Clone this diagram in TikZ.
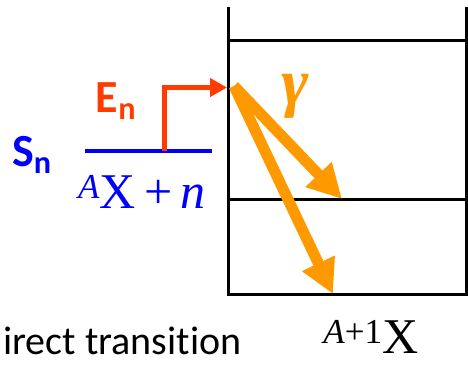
\documentclass[tikz,border=0pt]{standalone}
\usepackage{fontspec}
\setmainfont{Carlito}[Ligatures=NoCommon]
\newfontfamily\serifmath{Liberation Serif}
\usetikzlibrary{arrows.meta}
\definecolor{gammaorange}{RGB}{255,153,0}
\definecolor{capred}{RGB}{255,60,0}
\definecolor{groundblue}{RGB}{0,0,250}

\tikzset{
  statebar/.style={line width=3pt, black},
  groundbar/.style={line width=4.5pt, groundblue},
  captarrow/.style={line width=5pt, capred, -{Triangle[length=17pt,width=18pt]}},
  gammaarrow/.style={line width=11pt, gammaorange, -{Triangle[length=34pt,width=34pt]}},
  biglabel/.style={inner sep=0pt, font=\bfseries\fontsize{46}{46}\selectfont},
  mathlabel/.style={inner sep=0pt, anchor=base, font=\serifmath\fontsize{50}{50}\selectfont},
}

\begin{document}
\begin{tikzpicture}[x=1pt,y=-1pt]
    \useasboundingbox (0,0) rectangle (468,365);
    \foreach \y in {40,199} {
        \draw[statebar] (228,\y) -- (468,\y);
    }
    \draw[statebar] (228,7) |- (466,294) -- (466,7);

    \coordinate (gl) at (85,151);
    \coordinate (gr) at (212,151);
    \coordinate (gfoot) at (164.5,151);
    \coordinate (entry) at (227,87.5);
    \draw[groundbar] (gl) -- (gr);
    \draw[captarrow] (gfoot) |- (entry);

    \coordinate (capt) at (234,86);
    \coordinate (lvl1) at (342,199);
    \coordinate (lvl0) at (333,294);
    \draw[gammaarrow] (capt) -- (lvl1);
    \draw[gammaarrow] (capt) -- (lvl0);

    \node[biglabel, text=groundblue] (sn) at (32,155) {S\textsubscript{n}};
    \node[biglabel, text=capred] (en) at (116,101) {E\textsubscript{n}};
    \node[inner sep=0pt, text=gammaorange, font=\serifmath\bfseries\itshape\fontsize{66}{66}\selectfont] (gam) at (295,96) {γ};
    \node[mathlabel, text=groundblue] (xn) at (142,208) {\textsuperscript{\itshape A}X\,+\,\textit{n}};
    \node[mathlabel] (prod) at (371,353) {\textsuperscript{\textit{A}+1}X};
    \node[inner sep=0pt, anchor=base west, font=\fontsize{40}{40}\selectfont] (lbl) at (3,354) {irect transition};
\end{tikzpicture}
\end{document}
